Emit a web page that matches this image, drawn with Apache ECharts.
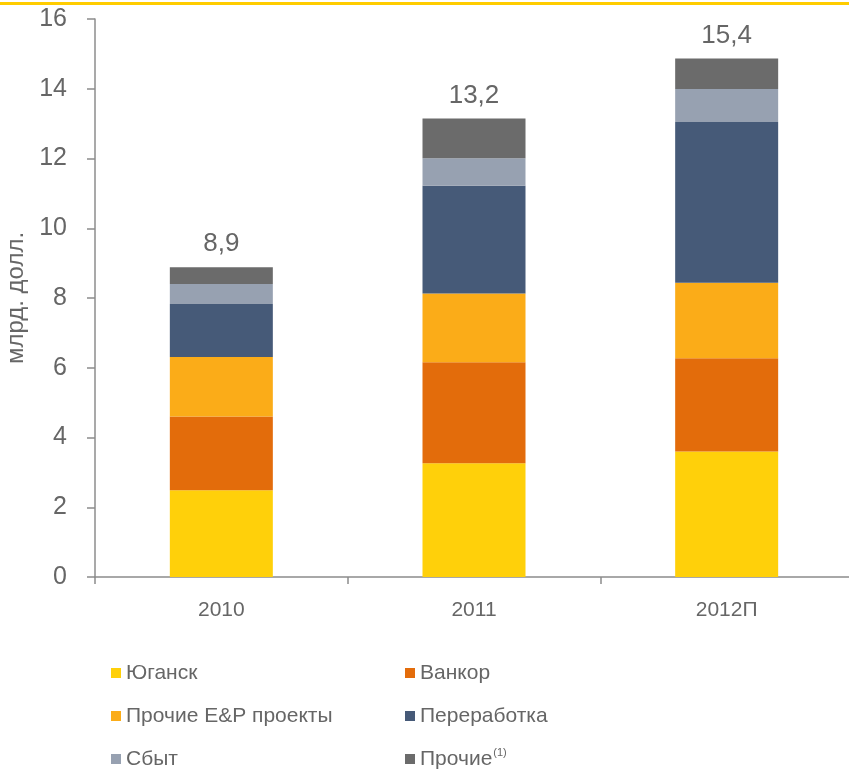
<!DOCTYPE html>
<html>
<head>
<meta charset="utf-8">
<script src="https://cdn.jsdelivr.net/npm/echarts@6/dist/echarts.min.js"></script>
<style>
  html, body { margin: 0; padding: 0; background: #fff; }
  #chart { width: 849px; height: 771px; }
</style>
</head>
<body>
<div id="chart"></div>
<script>
// данные (млрд. долл.)
var years = ['2010', '2011', '2012П'];
var yugansk = [2.49, 3.26, 3.60];
var vankor = [2.11, 2.90, 2.67];
var otherEP = [1.71, 1.97, 2.17];
var refining = [1.52, 3.09, 4.61];
var marketing = [0.57, 0.79, 0.94];
var other = [0.48, 1.14, 0.88];
var totals = ['8,9', '13,2', '15,4'];
var yTicks = [0, 2, 4, 6, 8, 10, 12, 14, 16];

var font = 'Liberation Sans';
var textColor = '#666666';

var chart = echarts.init(document.getElementById('chart'));

function bar (name, data, color) {
  return {
    name: name,
    type: 'bar',
    stack: 'total',
    barWidth: 103,
    data: data,
    itemStyle: { color: color },
  };
}

var series = [
  bar('Юганск', yugansk, '#FFD00A'),
  bar('Ванкор', vankor, '#E36C0B'),
  bar('Прочие E&P проекты', otherEP, '#FBAC18'),
  bar('Переработка', refining, '#465A78'),
  bar('Сбыт', marketing, '#97A1B1'),
  bar('Прочие', other, '#6B6B6B'),
];
// подпись итога над столбцом
series[5].label = {
  show: true,
  position: 'top',
  distance: 10,
  color: textColor,
  fontSize: 26,
  fontFamily: font,
  formatter: function (p) { return totals[p.dataIndex]; },
};

var legendText = {
  color: textColor,
  fontSize: 21,
  lineHeight: 24,
  fontFamily: font,
  rich: {
    sup: { fontSize: 11, color: textColor, fontFamily: font, verticalAlign: 'top', padding: [0, 0, 14, 1] },
  },
};
function legendFmt (name) {
  return name === 'Прочие' ? name + '{sup|(1)}' : name;
}

chart.setOption({
  animation: false,
  textStyle: { fontFamily: font },
  graphic: [{
    type: 'rect',
    shape: { x: 0, y: 2, width: 849, height: 3 },
    style: { fill: '#FFCC00' },
  }],
  grid: { left: 95, right: -4, top: 19, bottom: 194, containLabel: false, outerBoundsMode: 'none' },
  legend: [
    {
      orient: 'vertical', left: 111, top: 661, height: 120, padding: 0,
      icon: 'rect', itemWidth: 10, itemHeight: 10, itemGap: 19,
      data: ['Юганск', 'Прочие E&P проекты', 'Сбыт'],
      textStyle: legendText, formatter: legendFmt,
    },
    {
      orient: 'vertical', left: 405, top: 661, height: 120, padding: 0,
      icon: 'rect', itemWidth: 10, itemHeight: 10, itemGap: 19,
      data: ['Ванкор', 'Переработка', 'Прочие'],
      textStyle: legendText, formatter: legendFmt,
    },
  ],
  xAxis: {
    type: 'category',
    data: years,
    axisLine: { lineStyle: { color: '#8C8C8C', width: 1.5 } },
    axisTick: { show: true, length: 7, lineStyle: { color: '#8C8C8C', width: 1.5 } },
    axisLabel: { color: textColor, fontSize: 21, fontFamily: font, margin: 23 },
  },
  yAxis: {
    type: 'value',
    min: yTicks[0],
    max: yTicks[yTicks.length - 1],
    interval: 2,
    name: 'млрд. долл.',
    nameLocation: 'middle',
    nameGap: 53,
    nameTextStyle: { color: textColor, fontSize: 24, fontFamily: font },
    axisLine: { show: true, lineStyle: { color: '#8C8C8C', width: 1.5 } },
    axisTick: { show: true, length: 8, lineStyle: { color: '#8C8C8C', width: 1.5 } },
    axisLabel: { color: textColor, fontSize: 25, fontFamily: font, margin: 28 },
    splitLine: { show: false },
  },
  series: series,
});
</script>
</body>
</html>
